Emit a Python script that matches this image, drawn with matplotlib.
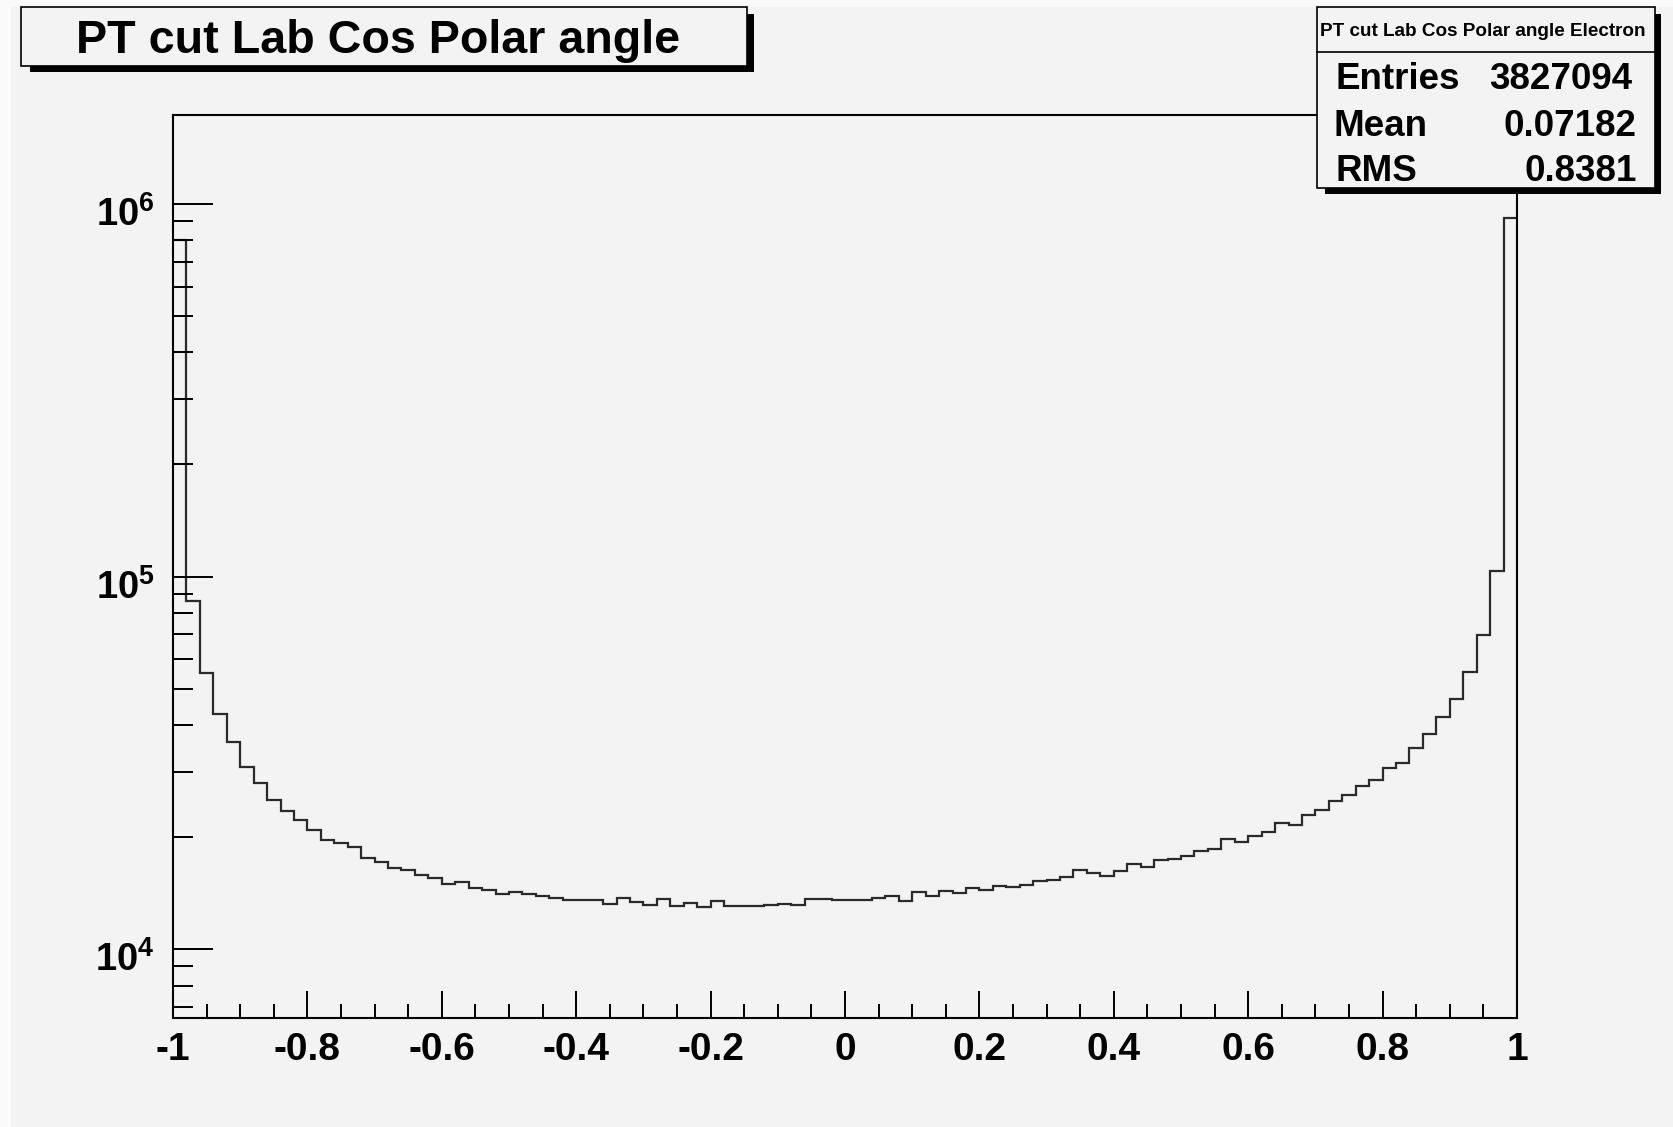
import numpy as np
import matplotlib
matplotlib.use('Agg')
import matplotlib.pyplot as plt
from matplotlib.patches import Rectangle
from matplotlib.lines import Line2D
from matplotlib.transforms import ScaledTranslation
from matplotlib.ticker import LogLocator, MultipleLocator, NullFormatter

# ---------------- data ----------------
x_range = (-1.0, 1.0)
n_bins = 100
counts = [
    798000, 86000, 55200, 42800, 35900, 30900, 27900, 25200, 23500, 22300,
    20900, 19700, 19300, 18800, 17600, 17200, 16500, 16300, 15800, 15500,
    15000, 15150, 14600, 14400, 14100, 14250, 14100, 13950, 13700, 13600,
    13600, 13600, 13250, 13750, 13400, 13150, 13650, 13050, 13300, 13000,
    13500, 13050, 13050, 13100, 13150, 13200, 13150, 13650, 13650, 13600,
    13600, 13550, 13750, 13950, 13500, 14300, 13950, 14350, 14200, 14600,
    14450, 14750, 14700, 14900, 15300, 15400, 15650, 16350, 16050, 15750,
    16250, 17000, 16650, 17350, 17450, 17800, 18350, 18650, 19800, 19400,
    20150, 20600, 21850, 21550, 22900, 23650, 25000, 25900, 27400, 28500,
    30650, 31700, 34750, 37850, 41950, 47050, 55600, 69600, 103700, 914000,
]
xtick_values = [-1, -0.8, -0.6, -0.4, -0.2, 0, 0.2, 0.4, 0.6, 0.8, 1]
xtick_labels = ['-1', '-0.8', '-0.6', '-0.4', '-0.2', '0', '0.2', '0.4', '0.6', '0.8', '1']
ytick_values = [1e4, 1e5, 1e6]
ytick_labels = [r'$10^{4}$', r'$10^{5}$', r'$10^{6}$']
y_limits = (6535, 1.736e6)
title = 'PT cut Lab Cos Polar angle'
stats_title = 'PT cut Lab Cos Polar angle Electron'
stats_names = ['Entries', 'Mean', 'RMS']
stats_values = ['3827094', '0.07182', '0.8381']

# ---------------- style ----------------
W, H = 1673, 1127
BG = '#f3f3f3'
plt.rcParams['font.family'] = ['Liberation Sans', 'DejaVu Sans']
plt.rcParams['font.weight'] = 'bold'
plt.rcParams['mathtext.fontset'] = 'custom'
plt.rcParams['mathtext.rm'] = 'Liberation Sans:bold'
plt.rcParams['mathtext.bf'] = 'Liberation Sans:bold'
plt.rcParams['mathtext.it'] = 'Liberation Sans:bold'
plt.rcParams['mathtext.default'] = 'rm'
plt.rcParams['axes.unicode_minus'] = False

fig = plt.figure(figsize=(W / 100, H / 100), dpi=100, facecolor=BG)


def fx(x):
    return x / W


def fy(y):
    return 1 - y / H


def frect(x0, y0, x1, y1, **kw):
    r = Rectangle((fx(x0), fy(y1)), (x1 - x0) / W, (y1 - y0) / H,
                  transform=fig.transFigure, **kw)
    fig.patches.append(r)
    return r


# light canvas border (left / top)
frect(0, 0, 11, H, facecolor='#fafafa', edgecolor='none', zorder=0.5)
frect(0, 0, W, 7, facecolor='#fafafa', edgecolor='none', zorder=0.5)

ax_l, ax_r, ax_t, ax_b = 173, 1517, 114.5, 1018.3
ax = fig.add_axes([fx(ax_l), fy(ax_b), (ax_r - ax_l) / W, (ax_b - ax_t) / H])
ax.set_facecolor(BG)

edges = np.linspace(x_range[0], x_range[1], n_bins + 1)
ax.stairs(counts, edges, baseline=None, color='#2a2a2a', linewidth=1.6)

ax.set_xlim(*x_range)
ax.set_yscale('log')
ax.set_ylim(*y_limits)

ax.set_xticks(xtick_values, xtick_labels)
ax.xaxis.set_minor_locator(MultipleLocator(0.05))
ax.set_yticks(ytick_values, ytick_labels)
ax.yaxis.set_minor_locator(LogLocator(base=10, subs=np.arange(2, 10)))
ax.yaxis.set_minor_formatter(NullFormatter())

ax.tick_params(axis='x', which='major', direction='in', length=19.2, width=1.4,
               pad=9.6, labelsize=28, top=False)
ax.tick_params(axis='x', which='minor', direction='in', length=10.3, width=1.4, top=False)
ax.tick_params(axis='y', which='major', direction='in', length=28.8, width=1.4,
               pad=13, labelsize=27.5, right=False)
ax.tick_params(axis='y', which='minor', direction='in', length=14.4, width=1.4, right=False)
for s in ax.spines.values():
    s.set_linewidth(1.5)

# shift y tick labels slightly downward (ROOT placement)
shift = ScaledTranslation(0, -7 / 100, fig.dpi_scale_trans)
for lab in ax.get_yticklabels():
    lab.set_transform(lab.get_transform() + shift)

# ---------------- title box ----------------
frect(30, 14, 753.7, 71.7, facecolor='black', edgecolor='none', zorder=1)
frect(20.8, 7.3, 746.5, 65.7, facecolor=BG, edgecolor='black', linewidth=1.2, zorder=1.1)
fig.text(fx(378), fy(53), title, ha='center', va='baseline', fontsize=33.6,
         fontweight='bold', zorder=3)

# ---------------- stats box ----------------
frect(1325, 14, 1660.7, 194, facecolor='black', edgecolor='none', zorder=1)
frect(1316.7, 6.7, 1655, 187.5, facecolor=BG, edgecolor='black', linewidth=1.2, zorder=1.1)
fig.add_artist(Line2D([fx(1316.7), fx(1655)], [fy(52.2), fy(52.2)], color='black',
                      linewidth=1.2, transform=fig.transFigure, zorder=1.2))
fig.text(fx(1483), fy(35.7), stats_title, ha='center', va='baseline', fontsize=13.6,
         fontweight='bold', zorder=3)
name_x = [1335, 1333, 1335]
val_x = [1632, 1636.7, 1636.7]
row_y = [89.3, 136.2, 180.8]
for n, v, nx, vx, ry in zip(stats_names, stats_values, name_x, val_x, row_y):
    fig.text(fx(nx), fy(ry), n, ha='left', va='baseline', fontsize=26.5, fontweight='bold', zorder=3)
    fig.text(fx(vx), fy(ry), v, ha='right', va='baseline', fontsize=26.5, fontweight='bold', zorder=3)

fig.savefig('out.png', dpi=100, facecolor=BG)
